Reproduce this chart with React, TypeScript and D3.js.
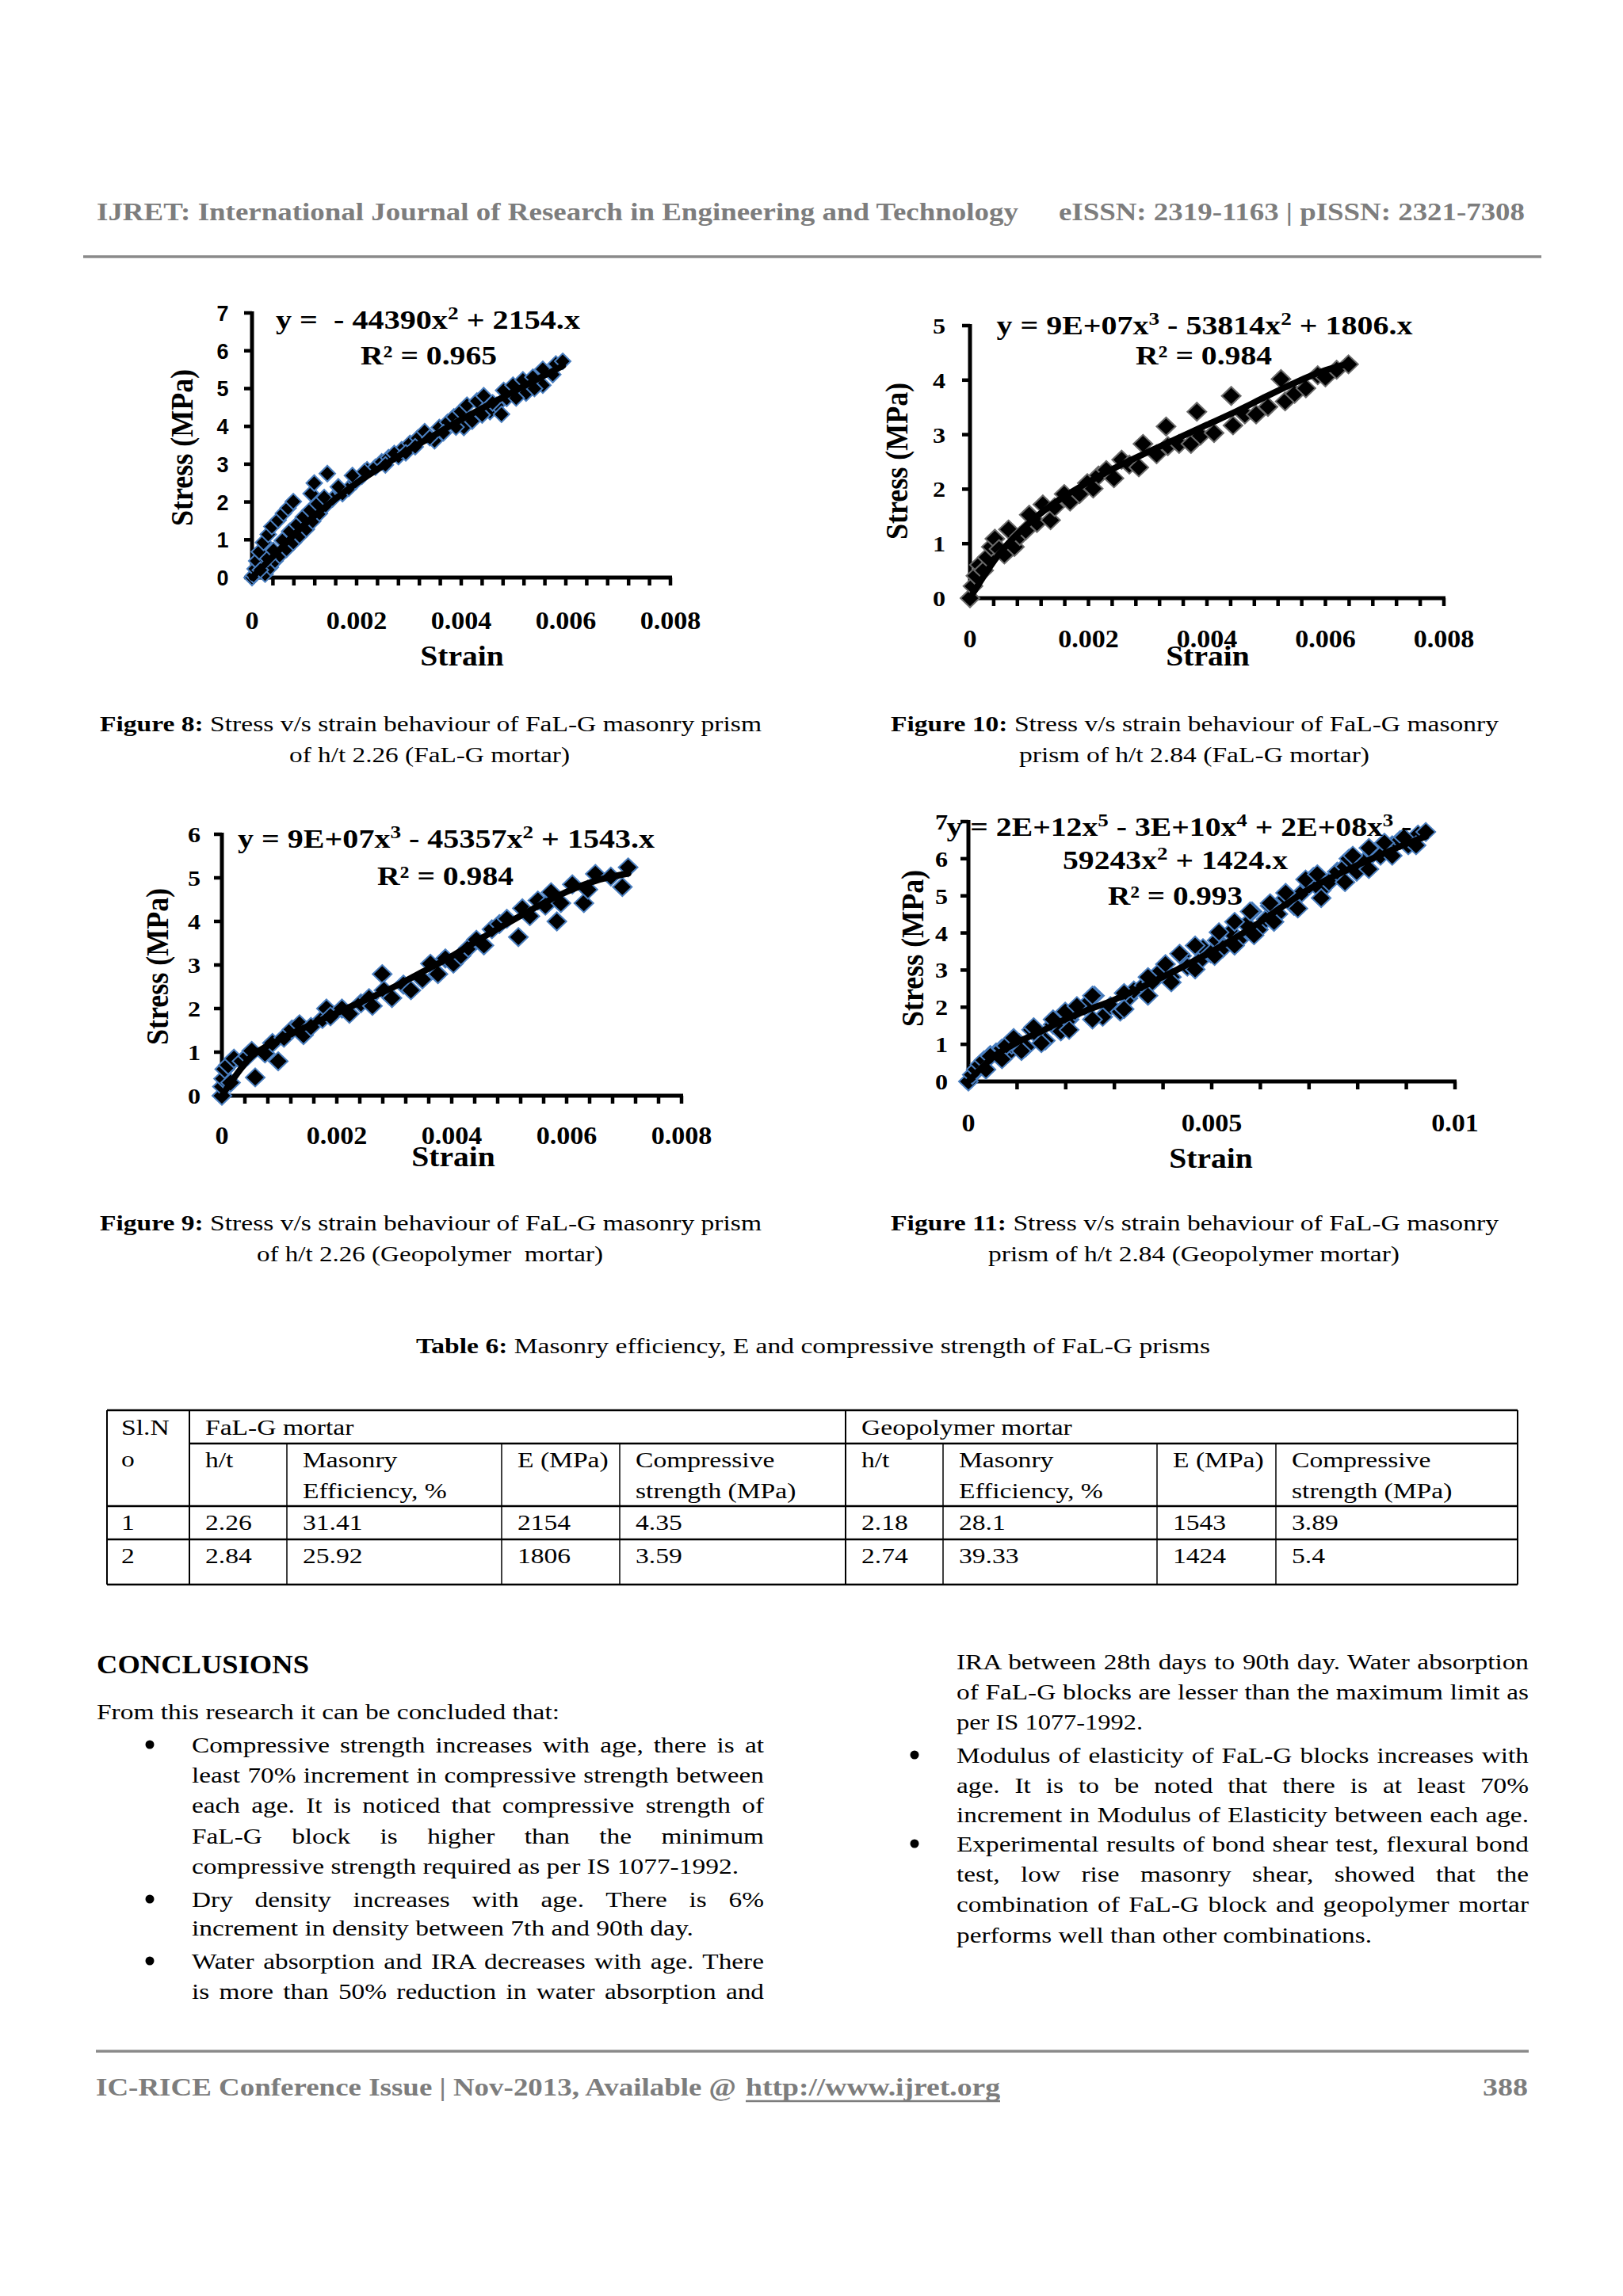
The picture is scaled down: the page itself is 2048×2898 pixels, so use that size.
import React, { useLayoutEffect, useRef } from 'react';
import * as d3 from 'd3';

type Pt = [number, number];
type Seg = [string, boolean];

const SERIF = "'Liberation Serif', 'Times New Roman', Times, serif";
const SANS = "'Liberation Sans', Arial, sans-serif";

// ---------------- Figure 8 (FaL-G mortar, h/t 2.26) ----------------
const fig8Points: Pt[] = [
  [0, 0], [0.00003, 0.06], [0.00006, 0.23], [0.00009, 0.44], [0.00014, 0.68], [0.00022, 0.93],
  [0.00031, 1.14], [0.00038, 1.35], [0.0005, 1.52], [0.0006, 1.7], [0.00069, 1.84], [0.00079, 2.01],
  [0.00113, 2.22], [0.00119, 2.5], [0.00144, 2.75],
  [0.00025, 0.09], [0.00035, 0.27], [0.00044, 0.44], [0.00053, 0.58], [0.00066, 0.75], [0.00079, 0.93],
  [0.00091, 1.1], [0.00104, 1.28], [0.00116, 1.49], [0.00129, 1.7], [0.00141, 1.91], [0.00154, 2.08],
  [0.00173, 2.22], [0.00185, 2.36], [0.00198, 2.54], [0.0021, 2.68], [0.0022, 2.85], [0.00236, 2.92],
  [0.00248, 3.06], [0.00261, 3.17], [0.0028, 3.2], [0.00286, 3.38], [0.00302, 3.55], [0.00317, 3.69],
  [0.0033, 3.86], [0.00349, 3.62], [0.00358, 3.97], [0.00374, 4.11], [0.00386, 4.25], [0.00399, 4.39],
  [0.00405, 3.97], [0.00421, 4.14], [0.00411, 4.56], [0.0043, 4.67], [0.00443, 4.81], [0.00455, 4.39],
  [0.00468, 4.56], [0.00477, 4.32], [0.00487, 4.74], [0.00481, 4.95], [0.00499, 5.09], [0.00524, 4.88],
  [0.00518, 5.23], [0.00537, 5.3], [0.00556, 5.09], [0.00556, 5.51], [0.00575, 5.37], [0.00581, 5.65],
  [0.00594, 5.72],
  [0.00016, 0.2], [0.0003, 0.5], [0.00041, 0.72], [0.00058, 0.98], [0.00072, 1.22], [0.00086, 1.4],
  [0.00098, 1.6], [0.00111, 1.78], [0.00125, 1.95], [0.00138, 2.12], [0.00165, 2.4], [0.00192, 2.7],
  [0.00215, 2.8], [0.00255, 2.98], [0.00272, 3.28], [0.00294, 3.3], [0.00312, 3.46], [0.0034, 3.7],
  [0.00366, 3.83], [0.0039, 3.98], [0.0044, 4.3], [0.0046, 4.62], [0.00505, 4.75], [0.0054, 5.0],
];
const fig8Trend: Pt[] = [
  [0, 0], [0.0005, 0.7], [0.001, 1.4], [0.0015, 1.98], [0.002, 2.5], [0.0025, 2.95], [0.003, 3.38],
  [0.0035, 3.78], [0.004, 4.18], [0.0045, 4.55], [0.005, 4.92], [0.0055, 5.28], [0.00594, 5.6],
];
const fig8Equation: Seg[][] = [
  [['y =\u00a0 - 44390x', false], ['2', true], [' + 2154.x', false]],
  [['R² = 0.965', false]],
];
const fig8XTicks = [0, 0.002, 0.004, 0.006, 0.008];
const fig8XLabels = ['0', '0.002', '0.004', '0.006', '0.008'];
const fig8YTicks = [0, 1, 2, 3, 4, 5, 6, 7];

// ---------------- Figure 10 (FaL-G mortar, h/t 2.84) ----------------
const fig10Points: Pt[] = [
  [0, 0], [0.00005, 0.22], [0.0001, 0.41], [0.00016, 0.61], [0.00023, 0.51], [0.00029, 0.75],
  [0.00036, 0.94], [0.00042, 1.09], [0.00049, 0.9], [0.00058, 0.8], [0.00065, 1.26], [0.00075, 0.94],
  [0.00084, 1.14], [0.00094, 1.24], [0.001, 1.53], [0.00113, 1.38], [0.00123, 1.72], [0.00136, 1.43],
  [0.00143, 1.67], [0.00159, 1.91], [0.00169, 1.77], [0.00185, 1.91], [0.00198, 2.11], [0.00208, 2.01],
  [0.00217, 2.25], [0.0023, 2.35], [0.00243, 2.2], [0.00256, 2.54], [0.00269, 2.45], [0.00285, 2.4],
  [0.00292, 2.83], [0.00315, 2.64], [0.00331, 3.15], [0.00334, 2.79], [0.00353, 2.83], [0.00373, 2.83],
  [0.00383, 3.42], [0.00389, 2.98], [0.00412, 3.03], [0.00441, 3.71], [0.00444, 3.17], [0.00464, 3.37],
  [0.00483, 3.37], [0.00503, 3.51], [0.00525, 4.02], [0.00532, 3.61], [0.00548, 3.75], [0.00567, 3.85],
  [0.00587, 4.09], [0.006, 4.05], [0.00619, 4.19], [0.00639, 4.29],
];
const fig10Trend: Pt[] = [
  [0, 0], [0.0005, 0.82], [0.001, 1.38], [0.0015, 1.8], [0.002, 2.13], [0.0025, 2.42], [0.003, 2.68],
  [0.0035, 2.93], [0.004, 3.18], [0.0045, 3.43], [0.005, 3.7], [0.0055, 3.96], [0.006, 4.18], [0.0064, 4.3],
];
const fig10Equation: Seg[][] = [
  [['y = 9E+07x', false], ['3', true], [' - 53814x', false], ['2', true], [' + 1806.x', false]],
  [['R² = 0.984', false]],
];
const fig10XTicks = [0, 0.002, 0.004, 0.006, 0.008];
const fig10XLabels = ['0', '0.002', '0.004', '0.006', '0.008'];
const fig10YTicks = [0, 1, 2, 3, 4, 5];

// ---------------- Figure 9 (Geopolymer mortar, h/t 2.26) ----------------
const fig9Points: Pt[] = [
  [0, 0], [0.00001, 0.21], [0.00003, 0.39], [0.00005, 0.61], [0.00011, 0.7], [0.00015, 0.3],
  [0.00021, 0.85], [0.00035, 0.79], [0.00045, 0.91], [0.00052, 1.03], [0.00058, 0.42], [0.00075, 0.97],
  [0.00088, 1.21], [0.00098, 0.79], [0.00108, 1.33], [0.00122, 1.52], [0.00135, 1.64], [0.00142, 1.39],
  [0.00155, 1.58], [0.00175, 1.76], [0.00182, 2.0], [0.00189, 1.82], [0.00209, 2.0], [0.00222, 1.88],
  [0.00242, 2.12], [0.00256, 2.24], [0.00262, 2.06], [0.00279, 2.79], [0.00282, 2.42], [0.00296, 2.24],
  [0.00316, 2.55], [0.00329, 2.42], [0.00349, 2.67], [0.00363, 3.03], [0.00376, 2.79], [0.00389, 3.15],
  [0.00403, 3.03], [0.00416, 3.21], [0.00429, 3.39], [0.00443, 3.58], [0.00456, 3.45], [0.0047, 3.82],
  [0.00483, 3.94], [0.00496, 4.06], [0.00516, 3.64], [0.00523, 4.3], [0.00536, 4.12], [0.0055, 4.48],
  [0.00563, 4.36], [0.00573, 4.67], [0.00583, 4.0], [0.0059, 4.42], [0.0061, 4.85], [0.0063, 4.42],
  [0.00637, 4.73], [0.0065, 5.09], [0.00677, 5.03], [0.00697, 4.79], [0.00707, 5.24],
];
const fig9Trend: Pt[] = [
  [0, 0], [0.0005, 0.88], [0.001, 1.28], [0.0015, 1.6], [0.002, 1.9], [0.0025, 2.2], [0.003, 2.5],
  [0.0035, 2.85], [0.004, 3.2], [0.0045, 3.6], [0.005, 3.98], [0.0055, 4.35], [0.006, 4.68],
  [0.0065, 4.93], [0.00707, 5.1],
];
const fig9Equation: Seg[][] = [
  [['y = 9E+07x', false], ['3', true], [' - 45357x', false], ['2', true], [' + 1543.x', false]],
  [['R² = 0.984', false]],
];
const fig9XTicks = [0, 0.002, 0.004, 0.006, 0.008];
const fig9XLabels = ['0', '0.002', '0.004', '0.006', '0.008'];
const fig9YTicks = [0, 1, 2, 3, 4, 5, 6];

// ---------------- Figure 11 (Geopolymer mortar, h/t 2.84) ----------------
const fig11Points: Pt[] = [
  [0, 0], [0.00008, 0.18], [0.00016, 0.32], [0.00024, 0.46], [0.00032, 0.57], [0.00045, 0.71],
  [0.00057, 0.78], [0.00069, 0.89], [0.00081, 0.75], [0.00089, 0.99], [0.00105, 1.03], [0.00118, 0.92],
  [0.0013, 1.39], [0.00142, 1.24], [0.00158, 1.1], [0.00174, 1.53], [0.0019, 1.35], [0.00207, 1.67],
  [0.00219, 1.88], [0.00239, 2.03], [0.00259, 2.31], [0.00276, 1.74], [0.00292, 2.03], [0.00312, 1.88],
  [0.00328, 2.24], [0.0034, 2.45], [0.00361, 2.59], [0.00377, 2.67], [0.00393, 2.95], [0.00405, 3.16],
  [0.00417, 2.81], [0.00438, 3.38], [0.0045, 3.09], [0.00474, 3.23], [0.00482, 3.59], [0.00498, 3.45],
  [0.00511, 3.8], [0.00523, 3.59], [0.00539, 4.02], [0.00555, 3.8], [0.00571, 4.23], [0.00583, 4.58],
  [0.00596, 4.09], [0.00612, 4.37], [0.0062, 4.73], [0.00636, 4.51], [0.00652, 4.94], [0.00669, 4.73],
  [0.00685, 5.08], [0.00701, 5.29], [0.00709, 5.51], [0.00725, 5.15], [0.00741, 5.37], [0.00758, 5.65],
  [0.00774, 5.79], [0.00782, 6.0], [0.00798, 5.65], [0.00814, 5.93], [0.00831, 6.15], [0.00847, 6.08],
  [0.00871, 6.36], [0.00887, 6.5], [0.00904, 6.36], [0.00924, 6.65], [0.0094, 6.72],
  [0.00045, 0.68], [0.00077, 0.96], [0.00093, 1.17], [0.00134, 1.46], [0.00174, 1.67], [0.00199, 1.88],
  [0.00223, 2.03], [0.00255, 2.31], [0.0032, 2.38], [0.00369, 2.81], [0.00434, 3.44], [0.00466, 3.66],
  [0.00515, 4.02], [0.00547, 4.3], [0.00579, 4.58], [0.0062, 4.8], [0.00652, 5.08], [0.00693, 5.44],
  [0.00717, 5.58], [0.0079, 6.08], [0.00823, 6.29], [0.00855, 6.43], [0.00895, 6.57],
  [0.00036, 0.32], [0.00069, 0.6], [0.00109, 0.82], [0.0015, 1.03], [0.00207, 1.39], [0.00255, 1.67],
  [0.0032, 1.95], [0.00369, 2.31], [0.00417, 2.67], [0.00466, 3.02], [0.00506, 3.38], [0.00547, 3.66],
  [0.00587, 3.94], [0.00628, 4.3], [0.00677, 4.66], [0.00725, 4.94], [0.00774, 5.37], [0.00823, 5.72],
  [0.00871, 6.08], [0.0092, 6.36],
];
const fig11Trend: Pt[] = [
  [0, 0], [0.0005, 0.65], [0.001, 1.05], [0.0015, 1.35], [0.002, 1.68], [0.0025, 1.95], [0.003, 2.2],
  [0.0035, 2.5], [0.004, 2.82], [0.0045, 3.15], [0.005, 3.5], [0.0055, 3.88], [0.006, 4.3],
  [0.0065, 4.75], [0.007, 5.18], [0.0075, 5.52], [0.008, 5.83], [0.0085, 6.12], [0.009, 6.4], [0.0094, 6.6],
];
const fig11Equation: Seg[][] = [
  [['y = 2E+12x', false], ['5', true], [' - 3E+10x', false], ['4', true], [' + 2E+08x', false], ['3', true], [' -', false]],
  [['59243x', false], ['2', true], [' + 1424.x', false]],
  [['R² = 0.993', false]],
];
const fig11XTicks = [0, 0.005, 0.01];
const fig11XLabels = ['0', '0.005', '0.01'];
const fig11YTicks = [0, 1, 2, 3, 4, 5, 6, 7];

// ---------------- Captions ----------------
const captionFig8 = ['Figure 8:', ' Stress v/s strain behaviour of FaL-G masonry prism', 'of h/t 2.26 (FaL-G mortar)'];
const captionFig10 = ['Figure 10:', ' Stress v/s strain behaviour of FaL-G masonry', 'prism of h/t 2.84 (FaL-G mortar)'];
const captionFig9 = ['Figure 9:', ' Stress v/s strain behaviour of FaL-G masonry prism', 'of h/t 2.26 (Geopolymer\u00a0 mortar)'];
const captionFig11 = ['Figure 11:', ' Stress v/s strain behaviour of FaL-G masonry', 'prism of h/t 2.84 (Geopolymer mortar)'];

// ---------------- Table 6 ----------------
const tableTitle = ['Table 6:', ' Masonry efficiency, E and compressive strength of FaL-G prisms'];
const tableGroups = ['FaL-G mortar', 'Geopolymer mortar'];
const tableSubHeads = [['h/t', ''], ['Masonry', 'Efficiency, %'], ['E (MPa)', ''], ['Compressive', 'strength (MPa)']];
const tableSlNo = ['1', '2'];
const tableFalg = [
  ['2.26', '31.41', '2154', '4.35'],
  ['2.84', '25.92', '1806', '3.59'],
];
const tableGeo = [
  ['2.18', '28.1', '1543', '3.89'],
  ['2.74', '39.33', '1424', '5.4'],
];

// ---------------- Text ----------------
const headerLeft = 'IJRET: International Journal of Research in Engineering and Technology';
const headerRight = 'eISSN: 2319-1163 | pISSN: 2321-7308';
const footerLeft = 'IC-RICE Conference Issue | Nov-2013, Available @';
const footerLink = 'http://www.ijret.org';
const pageNumber = '388';
const conclusionsTitle = 'CONCLUSIONS';
const conclusionsIntro = 'From this research it can be concluded that:';
const leftLines = [
  'Compressive strength increases with age, there is at',
  'least 70% increment in compressive strength between',
  'each age. It is noticed that compressive strength of',
  'FaL-G block is higher than the minimum',
  'compressive strength required as per IS 1077-1992.',
  'Dry density increases with age. There is 6%',
  'increment in density between 7th and 90th day.',
  'Water absorption and IRA decreases with age. There',
  'is more than 50% reduction in water absorption and',
];
const rightLines = [
  'IRA between 28th days to 90th day. Water absorption',
  'of FaL-G blocks are lesser than the maximum limit as',
  'per IS 1077-1992.',
  'Modulus of elasticity of FaL-G blocks increases with',
  'age. It is to be noted that there is at least 70%',
  'increment in Modulus of Elasticity between each age.',
  'Experimental results of bond shear test, flexural bond',
  'test, low rise masonry shear, showed that the',
  'combination of FaL-G block and geopolymer mortar',
  'performs well than other combinations.',
];

// ---------------- Layout (positions / styles) ----------------
const SXB = 1.19; // horizontal stretch of body glyphs
const SXC = 1.1; // horizontal stretch of chart glyphs

const leftLayout = [
  { y: 2212, bullet: true, w: 0 }, { y: 2250, w: 0 }, { y: 2288, w: 0 }, { y: 2327, w: 0 },
  { y: 2365, w: 690, last: true }, { y: 2407, bullet: true, w: 0 }, { y: 2443, w: 633, last: true },
  { y: 2485, bullet: true, w: 0 }, { y: 2523, w: 0 },
];
const rightLayout = [
  { y: 2107, w: 0 }, { y: 2145, w: 0 }, { y: 2183, w: 235, last: true }, { y: 2225, bullet: true, w: 0 },
  { y: 2263, w: 0 }, { y: 2300, w: 0 }, { y: 2337, bullet: true, w: 0 }, { y: 2375, w: 0 },
  { y: 2413, w: 0 }, { y: 2452, w: 524, last: true },
];

type ChartCfg = {
  points: Pt[]; trend: Pt[]; eq: Seg[][]; xTicks: number[]; xLabels: string[]; yTicks: number[];
  xMax: number; yMax: number; minor: number;
  left: number; right: number; bottom: number; top: number;
  yLabelX: number; yLabelFont: string; yLabelSize: number; xLabelY: number;
  strain: Pt; stress: Pt; eqLayout: { cx: number; y: number; w: number }[];
  mStroke: string; mw: number; mh: number;
};

const charts: ChartCfg[] = [
  {
    points: fig8Points, trend: fig8Trend, eq: fig8Equation, xTicks: fig8XTicks, xLabels: fig8XLabels, yTicks: fig8YTicks,
    xMax: 0.008, yMax: 7, minor: 0.0004, left: 318, right: 846, bottom: 729, top: 395,
    yLabelX: 281, yLabelFont: SANS, yLabelSize: 27, xLabelY: 794,
    strain: [583, 840], stress: [243, 565],
    eqLayout: [{ cx: 540, y: 415, w: 384 }, { cx: 541, y: 460, w: 172 }],
    mStroke: '#4a7fc0', mw: 10, mh: 10,
  },
  {
    points: fig10Points, trend: fig10Trend, eq: fig10Equation, xTicks: fig10XTicks, xLabels: fig10XLabels, yTicks: fig10YTicks,
    xMax: 0.008, yMax: 5, minor: 0.0004, left: 1224, right: 1822, bottom: 755, top: 411,
    yLabelX: 1185, yLabelFont: SERIF, yLabelSize: 28, xLabelY: 817,
    strain: [1524, 840], stress: [1145, 582],
    eqLayout: [{ cx: 1520, y: 422, w: 525 }, { cx: 1519, y: 460, w: 172 }],
    mStroke: '#6b6b6b', mw: 12, mh: 11.5,
  },
  {
    points: fig9Points, trend: fig9Trend, eq: fig9Equation, xTicks: fig9XTicks, xLabels: fig9XLabels, yTicks: fig9YTicks,
    xMax: 0.008, yMax: 6, minor: 0.0004, left: 280, right: 860, bottom: 1383, top: 1053,
    yLabelX: 245, yLabelFont: SERIF, yLabelSize: 28, xLabelY: 1444,
    strain: [572, 1472], stress: [212, 1220],
    eqLayout: [{ cx: 563, y: 1070, w: 526 }, { cx: 562, y: 1117, w: 172 }],
    mStroke: '#4a7fc0', mw: 12, mh: 11.5,
  },
  {
    points: fig11Points, trend: fig11Trend, eq: fig11Equation, xTicks: fig11XTicks, xLabels: fig11XLabels, yTicks: fig11YTicks,
    xMax: 0.01, yMax: 7, minor: 0.001, left: 1222, right: 1836, bottom: 1365, top: 1037,
    yLabelX: 1188, yLabelFont: SERIF, yLabelSize: 28, xLabelY: 1428,
    strain: [1528, 1474], stress: [1165, 1197],
    eqLayout: [{ cx: 1488, y: 1055, w: 587 }, { cx: 1483, y: 1097, w: 284 }, { cx: 1483, y: 1142, w: 170 }],
    mStroke: '#4a7fc0', mw: 12, mh: 11.5,
  },
];

// ---------------- Helpers ----------------
type TProps = {
  x: number; y: number; size: number; w?: number; anchor?: 'start' | 'middle' | 'end';
  weight?: string | number; family?: string; fill?: string; sx?: number; rot?: boolean; jw?: number;
  children?: React.ReactNode;
};

function T({ x, y, size, w, anchor = 'start', weight = 'normal', family = SERIF, fill = '#000', sx = 1, rot = false, jw, children }: TProps) {
  const style: React.CSSProperties = { fontSize: size, fontWeight: weight as any, fontFamily: family, fill };
  if (w) {
    const x0 = anchor === 'middle' ? x - w / 2 : anchor === 'end' ? x - w : x;
    return (
      <text x={x0} y={y} textLength={w} lengthAdjust="spacingAndGlyphs" style={style}>
        {children}
      </text>
    );
  }
  const tr = `translate(${x},${y}) scale(${sx},1)` + (rot ? ' rotate(-90)' : '');
  return (
    <text transform={tr} textAnchor={anchor} data-jw={jw ? jw / sx : undefined} style={style}>
      {children}
    </text>
  );
}

function segs(parts: Seg[], size: number) {
  const out: React.ReactNode[] = [];
  let raised = false;
  const up = size * 0.36;
  parts.forEach(([s, sup], i) => {
    if (sup) {
      out.push(<tspan key={i} dy={-up} style={{ fontSize: size * 0.68 }}>{s}</tspan>);
      raised = true;
    } else {
      out.push(<tspan key={i} dy={raised ? up : 0}>{s}</tspan>);
      raised = false;
    }
  });
  return out;
}

function Chart({ c }: { c: ChartCfg }) {
  const x = d3.scaleLinear().domain([0, c.xMax]).range([c.left, c.right]);
  const y = d3.scaleLinear().domain([0, c.yMax]).range([c.bottom, c.top]);
  const minor = d3.range(1, Math.round(c.xMax / c.minor) + 1).map((i) => i * c.minor);
  const trendPath = d3.line<Pt>().x((d) => x(d[0])).y((d) => y(d[1])).curve(d3.curveMonotoneX)(c.trend) || '';
  const diamond = `M0,${-c.mh}L${c.mw},0L0,${c.mh}L${-c.mw},0Z`;
  return (
    <g>
      <line x1={x(0) - 2.5} x2={x(c.xMax) + 2} y1={y(0)} y2={y(0)} stroke="#000" strokeWidth={5} />
      <line x1={x(0)} x2={x(0)} y1={y(0) + 2.5} y2={y(c.yMax) - 2} stroke="#000" strokeWidth={5} />
      {minor.map((t, i) => (
        <line key={'mx' + i} x1={x(t)} x2={x(t)} y1={y(0)} y2={y(0) + 10} stroke="#000" strokeWidth={4.5} />
      ))}
      {c.yTicks.map((t, i) => (
        <line key={'my' + i} x1={x(0) - 10} x2={x(0)} y1={y(t)} y2={y(t)} stroke="#000" strokeWidth={4.5} />
      ))}
      {c.points.map((p, i) => (
        <path key={'p' + i} d={diamond} transform={`translate(${x(p[0])},${y(p[1])})`} fill="#000" stroke={c.mStroke} strokeWidth={2} />
      ))}
      <path d={trendPath} fill="none" stroke="#000" strokeWidth={8} strokeLinecap="round" strokeLinejoin="round" />
      {c.yTicks.map((t, i) => (
        <T key={'yl' + i} x={c.yLabelX} y={y(t) + 10} size={c.yLabelSize} anchor="middle" weight="bold" family={c.yLabelFont} sx={c.yLabelFont === SANS ? 1 : 1.15}>
          {String(t)}
        </T>
      ))}
      {c.xTicks.map((t, i) => (
        <T key={'xl' + i} x={x(t)} y={c.xLabelY} size={31} anchor="middle" weight="bold" sx={SXC}>
          {c.xLabels[i]}
        </T>
      ))}
      <T x={c.strain[0]} y={c.strain[1]} size={36} anchor="middle" weight="bold" sx={SXC}>Strain</T>
      <T x={c.stress[0]} y={c.stress[1]} size={36} anchor="middle" weight="bold" sx={SXC} rot>Stress (MPa)</T>
      {c.eq.map((line, i) => (
        <T key={'eq' + i} x={c.eqLayout[i].cx} y={c.eqLayout[i].y} w={c.eqLayout[i].w} size={33} anchor="middle" weight="bold">
          {segs(line, 33)}
        </T>
      ))}
    </g>
  );
}

function Caption({ parts, x1, w1, x2, w2, y1, y2 }: { parts: string[]; x1: number; w1: number; x2: number; w2: number; y1: number; y2: number }) {
  return (
    <g>
      <T x={x1} y={y1} w={w1} size={28}>
        <tspan style={{ fontWeight: 'bold' }}>{parts[0]}</tspan>
        <tspan>{parts[1]}</tspan>
      </T>
      <T x={x2} y={y2} w={w2} size={28}>{parts[2]}</T>
    </g>
  );
}

const colX = [135, 239, 362, 633, 782, 1067, 1190, 1460, 1610, 1915];
const rowY = [1780, 1822, 1901, 1943, 2000];

function Table() {
  const tx = (i: number) => colX[i] + 20;
  const cell = (s: string, x: number, y: number, k: string) => (
    <T key={k} x={x} y={y} size={28} sx={1.2}>{s}</T>
  );
  return (
    <g>
      <T x={525} y={1708} w={1002} size={28}>
        <tspan style={{ fontWeight: 'bold' }}>{tableTitle[0]}</tspan>
        <tspan>{tableTitle[1]}</tspan>
      </T>
      {rowY.map((ry, i) => (
        <line key={'h' + i} x1={i === 1 ? colX[1] : colX[0]} x2={colX[9]} y1={ry} y2={ry} stroke="#000" strokeWidth={2.5} />
      ))}
      {colX.map((cx, i) => {
        const full = i === 0 || i === 1 || i === 5 || i === 9;
        return <line key={'v' + i} x1={cx} x2={cx} y1={full ? rowY[0] : rowY[1]} y2={rowY[4]} stroke="#000" strokeWidth={full ? 2 : 1.5} />;
      })}
      {cell('Sl.N', 153, 1811, 's1')}
      {cell('o', 153, 1851, 's2')}
      {cell(tableGroups[0], tx(1), 1811, 'g1')}
      {cell(tableGroups[1], tx(5), 1811, 'g2')}
      {[1, 5].map((base) =>
        tableSubHeads.map((h, j) => (
          <g key={'h' + base + j}>
            {cell(h[0], tx(base + j), 1852, 'a')}
            {h[1] ? cell(h[1], tx(base + j), 1891, 'b') : null}
          </g>
        ))
      )}
      {tableSlNo.map((s, r) => cell(s, 153, r === 0 ? 1931 : 1973, 'n' + r))}
      {tableFalg.map((row, r) => row.map((v, j) => cell(v, tx(1 + j), r === 0 ? 1931 : 1973, 'f' + r + j)))}
      {tableGeo.map((row, r) => row.map((v, j) => cell(v, tx(5 + j), r === 0 ? 1931 : 1973, 'q' + r + j)))}
    </g>
  );
}

function Column({ lines, layout, x, bulletX }: { lines: string[]; layout: any[]; x: number; bulletX: number }) {
  return (
    <g>
      {lines.map((s, i) => {
        const L = layout[i];
        return (
          <g key={i}>
            {L.bullet ? <circle cx={bulletX} cy={L.y - 10} r={5.5} fill="#000" /> : null}
            {L.last ? (
              <T x={x} y={L.y} w={L.w} size={28}>{s}</T>
            ) : (
              <T x={x} y={L.y} size={28} sx={SXB} jw={722}>{s}</T>
            )}
          </g>
        );
      })}
    </g>
  );
}

export default function App() {
  const ref = useRef<SVGSVGElement>(null);
  useLayoutEffect(() => {
    const svg = ref.current;
    if (!svg) return;
    svg.querySelectorAll('text[data-jw]').forEach((node) => {
      const el = node as SVGTextElement;
      const target = parseFloat(el.getAttribute('data-jw') || '0');
      el.style.wordSpacing = '0px';
      const L = el.getComputedTextLength();
      const n = ((el.textContent || '').match(/ /g) || []).length;
      if (n > 0) el.style.wordSpacing = `${(target - L) / n}px`;
    });
  }, []);

  const gray = '#7d7d7d';
  return (
    <svg ref={ref} width={2048} height={2898} style={{ position: 'absolute', left: 0, top: 0, display: 'block', background: '#fff' }}>
      <rect x={0} y={0} width={2048} height={2898} fill="#fff" />
      <T x={122} y={278} w={1163} size={31} weight="bold" fill={gray}>{headerLeft}</T>
      <T x={1336} y={278} w={588} size={31} weight="bold" fill={gray}>{headerRight}</T>
      <line x1={105} x2={1945} y1={324} y2={324} stroke="#8a8a8a" strokeWidth={3.5} />

      {charts.map((c, i) => <Chart key={i} c={c} />)}

      <Caption parts={captionFig8} x1={126} w1={835} x2={365} w2={354} y1={923} y2={962} />
      <Caption parts={captionFig10} x1={1124} w1={767} x2={1286} w2={442} y1={923} y2={962} />
      <Caption parts={captionFig9} x1={126} w1={835} x2={324} w2={437} y1={1553} y2={1592} />
      <Caption parts={captionFig11} x1={1124} w1={767} x2={1247} w2={519} y1={1553} y2={1592} />

      <Table />

      <T x={122} y={2112} w={268} size={34} weight="bold">{conclusionsTitle}</T>
      <T x={122} y={2170} w={584} size={28}>{conclusionsIntro}</T>
      <Column lines={leftLines} layout={leftLayout} x={242} bulletX={189} />
      <Column lines={rightLines} layout={rightLayout} x={1207} bulletX={1154} />

      <line x1={121} x2={1929} y1={2589} y2={2589} stroke="#8a8a8a" strokeWidth={3.5} />
      <T x={121} y={2645} w={808} size={31} weight="bold" fill={gray}>{footerLeft}</T>
      <T x={941} y={2645} w={321} size={31} weight="bold" fill={gray}>{footerLink}</T>
      <line x1={941} x2={1262} y1={2652} y2={2652} stroke={gray} strokeWidth={2.5} />
      <T x={1871} y={2645} w={57} size={31} weight="bold" fill={gray}>{pageNumber}</T>
    </svg>
  );
}
